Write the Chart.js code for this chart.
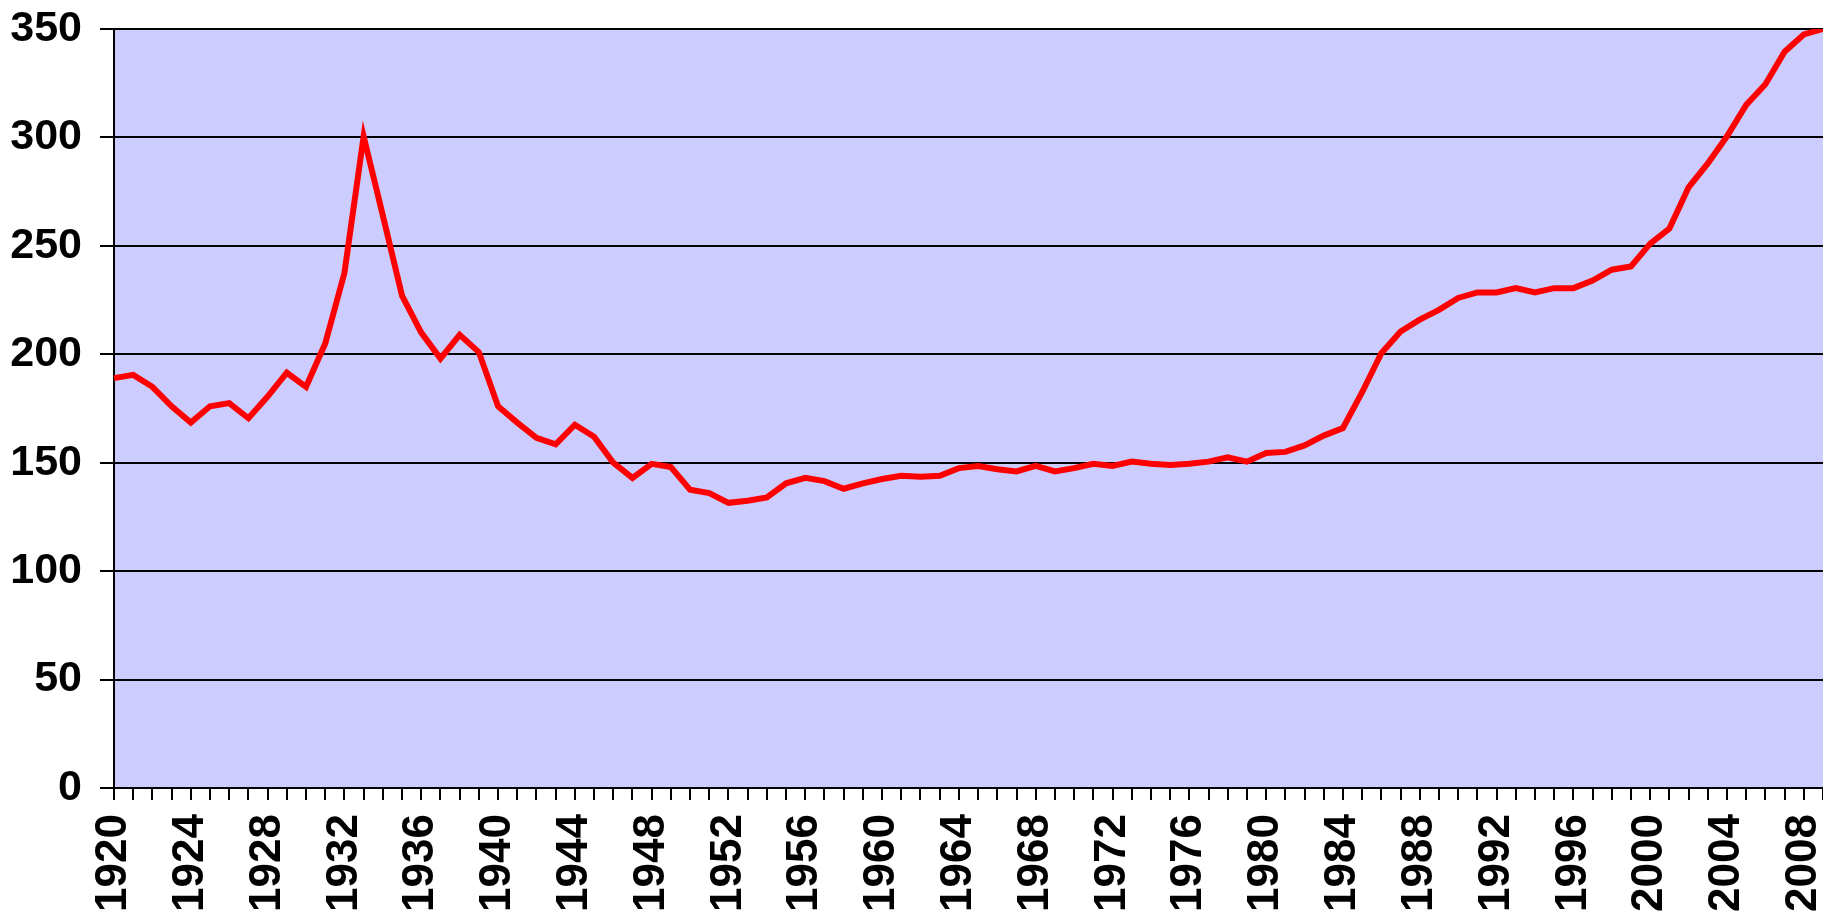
<!DOCTYPE html>
<html>
<head>
<meta charset="utf-8">
<script src="https://cdn.jsdelivr.net/npm/chart.js@4/dist/chart.umd.min.js"></script>
<style>
    html, body { margin: 0; padding: 0; background: #fff; overflow: hidden; }
    #wrap { position: relative; width: 1823px; height: 914px; }
</style>
</head>
<body>
<div id="wrap"><canvas id="mainChart"></canvas></div>
<script>
// --- Data ---
const years = [
    '1920', '1921', '1922', '1923', '1924', '1925', '1926', '1927', '1928', '1929',
    '1930', '1931', '1932', '1933', '1934', '1935', '1936', '1937', '1938', '1939',
    '1940', '1941', '1942', '1943', '1944', '1945', '1946', '1947', '1948', '1949',
    '1950', '1951', '1952', '1953', '1954', '1955', '1956', '1957', '1958', '1959',
    '1960', '1961', '1962', '1963', '1964', '1965', '1966', '1967', '1968', '1969',
    '1970', '1971', '1972', '1973', '1974', '1975', '1976', '1977', '1978', '1979',
    '1980', '1981', '1982', '1983', '1984', '1985', '1986', '1987', '1988', '1989',
    '1990', '1991', '1992', '1993', '1994', '1995', '1996', '1997', '1998', '1999',
    '2000', '2001', '2002', '2003', '2004', '2005', '2006', '2007', '2008', '2009'
];

const values = [
    189, 190.5, 185, 176, 168.5, 176, 177.5, 170.5, 180.5, 191.5,
    185, 205, 237.5, 300.5, 264, 227, 210, 198, 209, 201,
    176, 168.5, 161.5, 158.5, 167.5, 162, 150, 143, 149.5, 148,
    137.5, 136, 131.5, 132.5, 134, 140.5, 143, 141.5, 138, 140.5,
    142.5, 144, 143.5, 144, 147.5, 148.5, 147, 146, 148.5, 146,
    147.5, 149.5, 148.5, 150.5, 149.5, 149, 149.5, 150.5, 152.5, 150.5,
    154.5, 155, 158, 162.5, 166, 182.5, 200.5, 210.5, 216, 220.5,
    226, 228.5, 228.5, 230.5, 228.5, 230.5, 230.5, 234, 239, 240.5,
    251, 258, 277, 288, 300.5, 315, 324.5, 339.5, 347.5, 350
];

// x labels shown only every fourth year
const tickYears = [
    '1920', '1924', '1928', '1932', '1936', '1940', '1944', '1948', '1952', '1956',
    '1960', '1964', '1968', '1972', '1976', '1980', '1984', '1988', '1992', '1996',
    '2000', '2004', '2008'
];

const yTicks = [0, 50, 100, 150, 200, 250, 300, 350];

// --- Plot background ---
const plotBackground = {
    id: 'plotBackground',
    beforeDraw(chart) {
        const a = chart.chartArea;
        const ctx = chart.ctx;
        ctx.save();
        ctx.fillStyle = '#CCCCFF';
        ctx.fillRect(a.left, a.top, a.right - a.left, a.bottom - a.top);
        ctx.restore();
    }
};

const fontFamily = '"Liberation Sans", Arial, sans-serif';

const ctx = document.getElementById('mainChart').getContext('2d');
window.chart = new Chart(ctx, {
    type: 'line',
    data: {
        labels: years,
        datasets: [{
            data: values,
            borderColor: '#FF0000',
            borderWidth: 6,
            pointRadius: 0,
            tension: 0,
            fill: false
        }]
    },
    options: {
        responsive: true,
        maintainAspectRatio: false,
        animation: false,
        layout: { padding: { top: 29, right: 0, left: 0, bottom: 0 } },
        plugins: {
            legend: { display: false },
            tooltip: { enabled: false }
        },
        scales: {
            x: {
                type: 'category',
                offset: false,
                afterFit: function(scale) {
                    scale.height = 126;
                    scale.paddingLeft = 0;
                    scale.paddingRight = 0;
                },
                grid: {
                    drawOnChartArea: false,
                    drawTicks: true,
                    tickLength: 12,
                    color: '#000',
                    lineWidth: 2
                },
                border: { display: true, color: '#000', width: 2 },
                ticks: {
                    autoSkip: false,
                    minRotation: 90,
                    maxRotation: 90,
                    padding: 14,
                    color: '#000',
                    font: { family: fontFamily, size: 44, weight: 'bold' },
                    callback: function(value, index) {
                        const label = years[index];
                        return tickYears.includes(label) ? label : '';
                    }
                }
            },
            y: {
                min: 0,
                max: 350,
                afterFit: function(scale) {
                    scale.width = 114;
                    scale.paddingTop = 0;
                    scale.paddingBottom = 0;
                },
                afterBuildTicks: function(scale) {
                    scale.ticks = yTicks.map(v => ({ value: v }));
                },
                grid: {
                    color: '#000',
                    lineWidth: 2,
                    drawTicks: true,
                    tickLength: 14
                },
                border: { display: true, color: '#000', width: 2 },
                ticks: {
                    padding: 18,
                    color: '#000',
                    font: { family: fontFamily, size: 43, weight: 'bold' }
                }
            }
        }
    },
    plugins: [plotBackground]
});
</script>
</body>
</html>
